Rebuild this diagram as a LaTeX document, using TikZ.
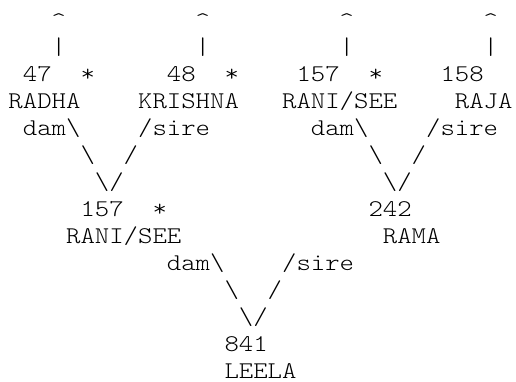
\documentclass[tikz,border=0pt]{standalone}
\usepackage{fontspec}
\newfontfamily\monofam[Extension=.otf,FakeStretch=1.143]{lmmonolt10-regular}
\newcommand\bs{\textbackslash}
\tikzset{
  txt/.style={anchor=base west, inner sep=0pt, outer sep=0pt, text=black,
              font=\monofam\fontsize{24}{27}\selectfont}
}
\newcommand\xo{8.5}
\newcommand\tx[4]{\node[txt] (#1) at ({\xo+14.4*#2},{28+26.95*(#3-1)}) {#4};}
\begin{document}
\begin{tikzpicture}[x=1pt,y=-1pt]
\useasboundingbox[fill=white] (0,0) rectangle (516,381);
% line 1
\tx{c1}{3}{1}{\^{}}
\tx{c2}{13}{1}{\^{}}
\tx{c3}{23}{1}{\^{}}
\tx{c4}{33}{1}{\^{}}
% line 2
\tx{b1}{3}{2}{|}
\tx{b2}{13}{2}{|}
\tx{b3}{23}{2}{|}
\tx{b4}{33}{2}{|}
% line 3
\tx{n47}{1}{3}{47}
\tx{s47}{5}{3}{*}
\tx{n48}{11}{3}{48}
\tx{s48}{15}{3}{*}
\tx{n157a}{20}{3}{157}
\tx{s157a}{25}{3}{*}
\tx{n158}{30}{3}{158}
% line 4
\tx{radha}{0}{4}{RADHA}
\tx{krishna}{9}{4}{KRISHNA}
\tx{ranisee}{19}{4}{RANI/SEE}
\tx{raja}{31}{4}{RAJA}
% line 5
\tx{dam1}{1}{5}{dam\bs}
\tx{sire1}{9}{5}{/sire}
\tx{dam2}{21}{5}{dam\bs}
\tx{sire2}{29}{5}{/sire}
% line 6
\tx{d1a}{5}{6}{\bs}
\tx{u1a}{8}{6}{/}
\tx{d2a}{25}{6}{\bs}
\tx{u2a}{28}{6}{/}
% line 7
\tx{v1}{6}{7}{\bs/}
\tx{v2}{26}{7}{\bs/}
% line 8
\tx{n157b}{5}{8}{157}
\tx{s157b}{10}{8}{*}
\tx{n242}{25}{8}{242}
% line 9
\tx{ranisee2}{4}{9}{RANI/SEE}
\tx{rama}{26}{9}{RAMA}
% line 10
\tx{dam3}{11}{10}{dam\bs}
\tx{sire3}{19}{10}{/sire}
% line 11
\tx{d3}{15}{11}{\bs}
\tx{u3}{18}{11}{/}
% line 12
\tx{v3}{16}{12}{\bs/}
% line 13
\tx{n841}{15}{13}{841}
% line 14
\tx{leela}{15}{14}{LEELA}
\end{tikzpicture}
\end{document}
